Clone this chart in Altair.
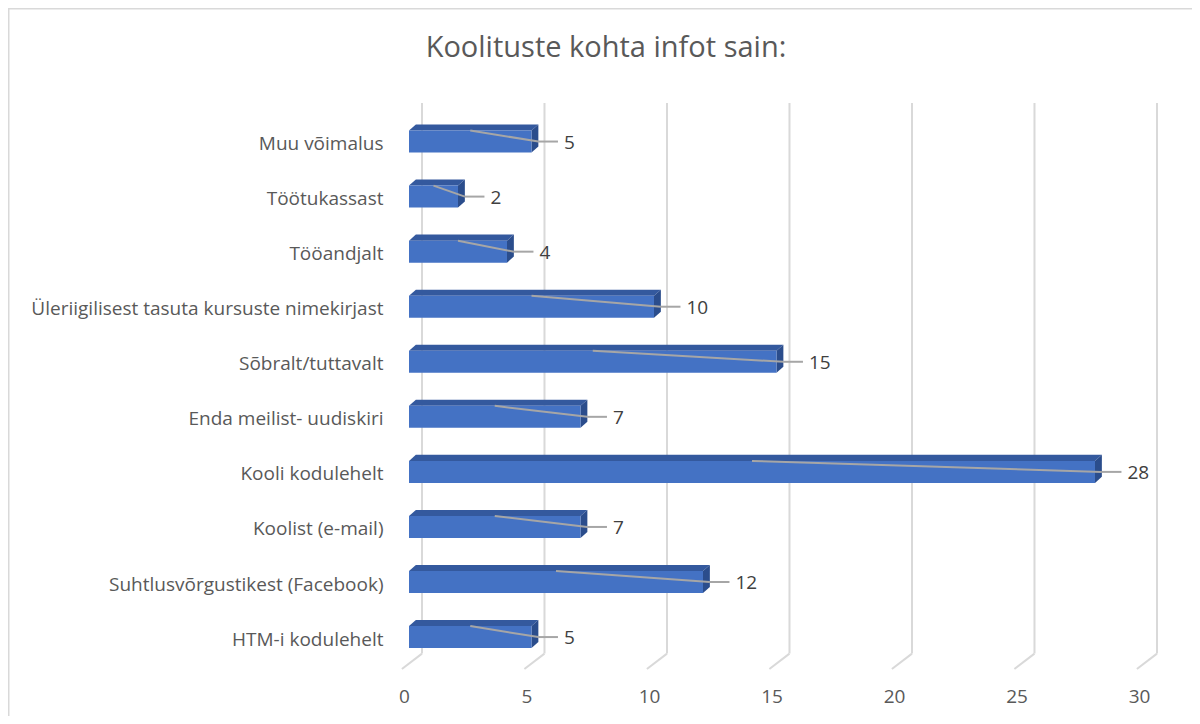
import json
import altair as alt
import pandas as pd

# ---------------- data ----------------
categories = [
    "HTM-i kodulehelt",
    "Suhtlusvõrgustikest (Facebook)",
    "Koolist (e-mail)",
    "Kooli kodulehelt",
    "Enda meilist- uudiskiri",
    "Sõbralt/tuttavalt",
    "Üleriigilisest tasuta kursuste nimekirjast",
    "Tööandjalt",
    "Töötukassast",
    "Muu võimalus",
]
values = [5, 12, 7, 28, 7, 15, 10, 4, 2, 5]
x_ticks = [0, 5, 10, 15, 20, 25, 30]
title_text = "Koolituste kohta infot sain:"

# ---------------- geometry (data units) ----------------
HALF = 0.2          # half thickness of a bar (row units)
DX = 0.28           # 3D depth in x (value units)
DY = 0.11           # 3D depth in y (row units)
BACK_DX = 0.53      # back wall offset of gridlines
FRONT_DX = -0.29    # front floor edge offset
Y_MIN, Y_MAX = -0.58, 9.70
Y_GRID_BOTTOM = -0.30
W, H = 735, 566

FRONT = "#4472c4"
TOP = "#34599e"
SIDE = "#2b4d8c"
GRID = "#d9d9d9"
TXT = "#595959"
FONT = "Open Sans"
FS = 19

xs = alt.Scale(domain=[0, 30], nice=False, zero=False)
ys = alt.Scale(domain=[Y_MIN, Y_MAX], nice=False, zero=False)

bars = pd.DataFrame({"cat": categories, "idx": list(range(len(values))), "value": values})
bars["zero"] = 0.0
bars["lo"] = bars["idx"] - HALF
bars["hi"] = bars["idx"] + HALF
bars["half"] = bars["value"] / 2
bars["tip"] = bars["value"] + DX
bars["tip2"] = bars["value"] + DX + 0.8

top_rows = []
side_rows = []
for i, v in enumerate(values):
    top_rows.append({"g": i, "y": i + HALF, "x": 0.0, "x2": v})
    top_rows.append({"g": i, "y": i + HALF + DY, "x": DX, "x2": v + DX})
    side_rows.append({"g": i, "x": v, "y": i - HALF, "y2": i + HALF})
    side_rows.append({"g": i, "x": v + DX, "y": i - HALF + DY, "y2": i + HALF + DY})
top_df = pd.DataFrame(top_rows)
side_df = pd.DataFrame(side_rows)

grid = pd.DataFrame({"t": x_ticks})
grid["back"] = grid["t"] + BACK_DX
grid["front"] = grid["t"] + FRONT_DX
grid["ytop"] = Y_MAX
grid["ybot"] = Y_GRID_BOTTOM
grid["yfront"] = Y_MIN

label_expr = json.dumps(categories, ensure_ascii=False) + "[datum.value]"

X_AXIS = alt.Axis(values=x_ticks, grid=False, ticks=False, domain=False,
                  labelFontSize=FS, labelColor=TXT, labelFont=FONT,
                  labelPadding=18, labelOffset=-5, labelFlush=False)
Y_AXIS = alt.Axis(values=list(range(len(categories))), labelExpr=label_expr,
                  grid=False, ticks=False, domain=False, labelFontSize=FS,
                  labelColor=TXT, labelFont=FONT, labelPadding=26, labelLimit=500,
                  labelOffset=2, labelFlush=False)


def X(f):
    return alt.X(f, scale=xs, title=None, axis=X_AXIS)


def Y(f):
    return alt.Y(f, scale=ys, title=None, axis=Y_AXIS)


# gridlines (back wall)
grid_layer = alt.Chart(grid).mark_rule(color=GRID, strokeWidth=2).encode(
    x=X("back:Q"), y=Y("ytop:Q"), y2="ybot:Q",
)

# floor lines running to the front
floor_layer = alt.Chart(grid).mark_rule(color=GRID, strokeWidth=2).encode(
    x=X("back:Q"), x2="front:Q", y=Y("ybot:Q"), y2="yfront:Q",
)

top_layer = alt.Chart(top_df).mark_area(orient="horizontal", color=TOP).encode(
    y=Y("y:Q"), x=X("x:Q"), x2="x2:Q", detail="g:N",
)

side_layer = alt.Chart(side_df).mark_area(orient="vertical", color=SIDE).encode(
    x=X("x:Q"), y=Y("y:Q"), y2="y2:Q", detail="g:N",
)

front_layer = alt.Chart(bars).mark_rect(color=FRONT).encode(
    x=X("zero:Q"), x2="value:Q", y=Y("lo:Q"), y2="hi:Q",
)

lead1 = alt.Chart(bars).mark_rule(color="#a6a6a6", strokeWidth=2).encode(
    x=X("half:Q"), x2="tip:Q", y=Y("hi:Q"), y2="idx:Q",
)

lead2 = alt.Chart(bars).mark_rule(color="#a6a6a6", strokeWidth=2).encode(
    x=X("tip:Q"), x2="tip2:Q", y=Y("idx:Q"),
)

value_labels = alt.Chart(bars).mark_text(
    align="left", baseline="middle", dx=6, dy=1, fontSize=FS, font=FONT, color="#404040"
).encode(
    x=X("tip2:Q"), y=Y("idx:Q"), text="value:Q",
)

title_layer = alt.Chart(pd.DataFrame({"t": [title_text]})).mark_text(
    align="center", baseline="middle", fontSize=29, font=FONT, color=TXT
).encode(
    x=alt.value(197), y=alt.value(-55), text="t:N",
)

border = alt.Chart(pd.DataFrame({"b": [0]})).mark_rect(
    fillOpacity=0, stroke=GRID, strokeWidth=1.5
).encode(
    x=alt.value(-400.25), x2=alt.value(W + 300),
    y=alt.value(-94.25), y2=alt.value(H + 300),
)

chart = alt.layer(
    grid_layer, floor_layer, top_layer, side_layer, front_layer,
    lead1, lead2, value_labels, title_layer, border,
).properties(
    width=W, height=H,
    padding={"left": 401, "top": 95, "right": 48, "bottom": 47},
    autosize=alt.AutoSizeParams(type="none"),
    background="white",
).configure_view(stroke=None)

chart.save("out.html", embed_options={"renderer": "svg", "actions": False})
